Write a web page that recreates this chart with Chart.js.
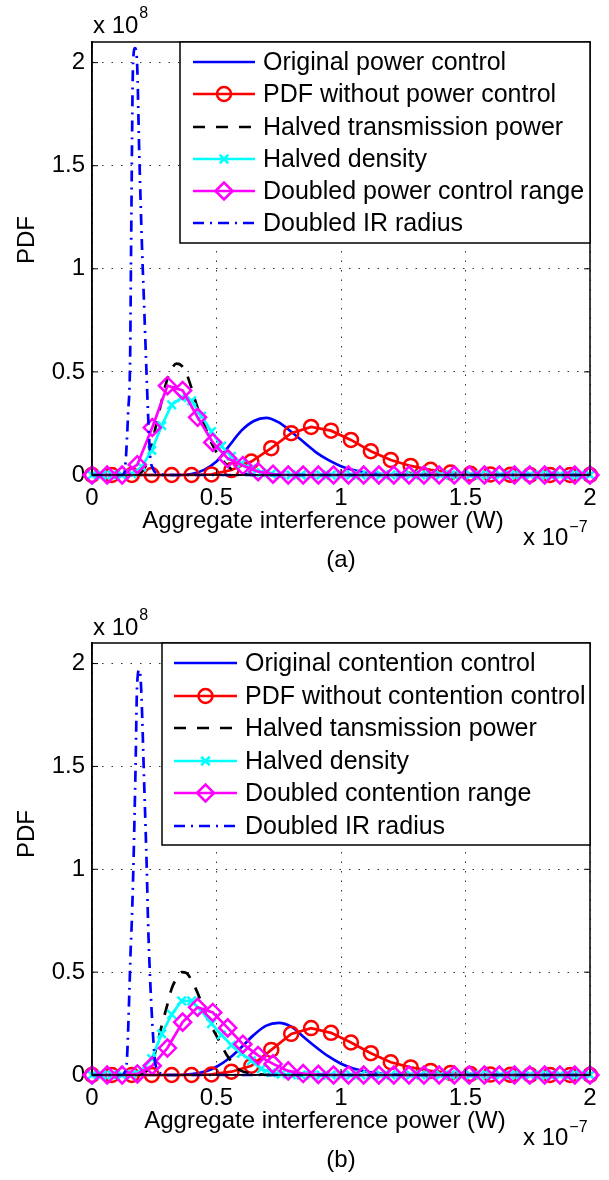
<!DOCTYPE html>
<html>
<head>
<meta charset="utf-8">
<script src="https://cdn.jsdelivr.net/npm/chart.js@4.4.0/dist/chart.umd.min.js"></script>
<style>
  html, body { margin: 0; padding: 0; background: #fff; }
  .panel { position: absolute; left: 0; }
  #chartA { top: 0; }
  #chartB { top: 600px; }
</style>
</head>
<body>
<canvas id="chartA" class="panel" width="609" height="600"></canvas>
<canvas id="chartB" class="panel" width="609" height="580"></canvas>
<script>
/* ========================================
   PDF of aggregate interference, panels (a) and (b)
   values in units of 1e-7 W (x) and 1e8 (y)
   ======================================== */

const FONT = '"Liberation Sans", Arial, Helvetica, sans-serif';

const xTicks = [0, 0.5, 1, 1.5, 2];
const yTicks = [0, 0.5, 1, 1.5, 2];

// x positions of the marker series
const xCircle = [0, 0.08, 0.16, 0.24, 0.32, 0.40, 0.48, 0.56, 0.64, 0.72, 0.80, 0.88, 0.96,
    1.04, 1.12, 1.20, 1.28, 1.36, 1.44, 1.52, 1.60, 1.68, 1.76, 1.84, 1.92, 2.0];
const xDiamond = [0, 0.061, 0.121, 0.182, 0.242, 0.303, 0.364, 0.424, 0.485, 0.545, 0.606, 0.667,
    0.727, 0.788, 0.848, 0.909, 0.970, 1.030, 1.091, 1.152, 1.212, 1.273, 1.333, 1.394, 1.455,
    1.515, 1.576, 1.636, 1.697, 1.758, 1.818, 1.879, 1.939, 2.0];
const xCross = [0, 0.04, 0.08, 0.12, 0.16, 0.20, 0.24, 0.28, 0.32, 0.36, 0.40, 0.44, 0.48, 0.52,
    0.56, 0.60, 0.64, 0.68, 0.72, 0.76, 0.80, 0.84, 0.88, 0.92, 0.96, 1.00, 1.04, 1.08, 1.12, 1.16,
    1.20, 1.24, 1.28, 1.32, 1.36, 1.40, 1.44, 1.48, 1.52, 1.56, 1.60, 1.64, 1.68, 1.72, 1.76, 1.80,
    1.84, 1.88, 1.92, 1.96, 2.0];
const xOrig = [0, 0.35, 0.4, 0.45, 0.5, 0.55, 0.6, 0.65, 0.7, 0.75, 0.8, 0.85, 0.9, 0.95, 1.0,
    1.05, 1.1, 1.15, 1.2, 1.3, 2.0];

// ---- panel (a)
const legendA = ['Original power control', 'PDF without power control', 'Halved transmission power',
    'Halved density', 'Doubled power control range', 'Doubled IR radius'];
const yOrigA = [0, 0, 0.005, 0.025, 0.065, 0.14, 0.215, 0.262, 0.277, 0.255, 0.21, 0.16, 0.11,
    0.072, 0.043, 0.024, 0.012, 0.005, 0.002, 0, 0];
const yNoCtrlA = [0, 0, 0, 0, 0, 0, 0.003, 0.024, 0.065, 0.13, 0.203, 0.233, 0.215, 0.17, 0.115,
    0.073, 0.044, 0.025, 0.012, 0.006, 0.003, 0.001, 0, 0, 0, 0];
const xHalfPowA = [0, 0.16, 0.18, 0.20, 0.22, 0.24, 0.26, 0.28, 0.30, 0.32, 0.34, 0.36, 0.38, 0.40,
    0.42, 0.44, 0.46, 0.48, 0.50, 0.52, 0.54, 0.56, 0.58, 0.60, 0.64, 0.70, 2.0];
const yHalfPowA = [0, 0, 0.003, 0.015, 0.055, 0.15, 0.255, 0.36, 0.455, 0.515, 0.54, 0.53, 0.49,
    0.42, 0.34, 0.275, 0.215, 0.155, 0.11, 0.08, 0.05, 0.028, 0.014, 0.007, 0.001, 0, 0];
const yHalfDensA = [0, 0, 0, 0, 0.005, 0.04, 0.12, 0.24, 0.34, 0.375, 0.36, 0.285, 0.21, 0.14, 0.09,
    0.055, 0.03, 0.012, 0.005, 0.002, 0, 0, 0, 0, 0, 0, 0, 0, 0, 0, 0, 0, 0, 0, 0, 0, 0, 0, 0, 0, 0,
    0, 0, 0, 0, 0, 0, 0, 0, 0, 0];
const yDoubleRangeA = [0, 0, 0, 0.05, 0.23, 0.433, 0.41, 0.28, 0.158, 0.08, 0.046, 0.016, 0.004,
    0, 0, 0, 0, 0, 0, 0, 0, 0, 0, 0, 0, 0, 0, 0, 0, 0, 0, 0, 0, 0];
const xIrA = [0, 0.12, 0.13, 0.137, 0.145, 0.153, 0.157, 0.165, 0.173, 0.181, 0.19, 0.201, 0.21,
    0.217, 0.225, 0.233, 0.245, 0.26, 0.28, 0.30, 2.0];
const yIrA = [0, 0, 0.01, 0.1, 0.3, 0.56, 1.1, 2.0, 2.07, 2.0, 1.55, 1.1, 0.8, 0.56, 0.3, 0.1, 0.03,
    0.008, 0.002, 0, 0];

// ---- panel (b)
const legendB = ['Original contention control', 'PDF without contention control',
    'Halved tansmission power', 'Halved density', 'Doubled contention range', 'Doubled IR radius'];
const yOrigB = [0, 0, 0.004, 0.015, 0.04, 0.08, 0.135, 0.195, 0.24, 0.253, 0.235, 0.185, 0.135,
    0.09, 0.055, 0.032, 0.017, 0.008, 0.003, 0, 0];
const yNoCtrlB = [0, 0, 0, 0, 0, 0, 0.003, 0.016, 0.045, 0.122, 0.2, 0.228, 0.205, 0.158, 0.106,
    0.062, 0.037, 0.02, 0.01, 0.005, 0.002, 0.001, 0, 0, 0, 0];
const xHalfPowB = [0, 0.18, 0.20, 0.22, 0.24, 0.26, 0.28, 0.30, 0.32, 0.34, 0.36, 0.38, 0.40, 0.42,
    0.44, 0.46, 0.48, 0.50, 0.52, 0.54, 0.56, 0.58, 0.60, 0.62, 0.66, 0.70, 0.75, 2.0];
const yHalfPowB = [0, 0, 0.005, 0.02, 0.055, 0.14, 0.24, 0.33, 0.42, 0.47, 0.50, 0.495, 0.46, 0.41,
    0.35, 0.285, 0.235, 0.19, 0.145, 0.10, 0.065, 0.035, 0.02, 0.012, 0.005, 0.001, 0, 0];
const yHalfDensB = [0, 0, 0, 0, 0.003, 0.025, 0.08, 0.2, 0.295, 0.36, 0.36, 0.31, 0.25, 0.195, 0.145,
    0.105, 0.07, 0.03, 0.012, 0.004, 0.001, 0, 0, 0, 0, 0, 0, 0, 0, 0, 0, 0, 0, 0, 0, 0, 0, 0, 0, 0,
    0, 0, 0, 0, 0, 0, 0, 0, 0, 0, 0];
const yDoubleRangeB = [0, 0, 0, 0.005, 0.045, 0.131, 0.257, 0.329, 0.304, 0.229, 0.15, 0.095, 0.054,
    0.02, 0.007, 0.003, 0, 0, 0, 0, 0, 0, 0, 0, 0, 0, 0, 0, 0, 0, 0, 0, 0, 0];
const xIrB = [0, 0.12, 0.13, 0.14, 0.15, 0.155, 0.16, 0.166, 0.175, 0.181, 0.19, 0.197, 0.21, 0.22,
    0.225, 0.229, 0.24, 0.253, 0.265, 0.28, 0.30, 2.0];
const yIrB = [0, 0, 0.01, 0.07, 0.4, 0.6, 0.75, 1.0, 1.5, 1.89, 1.97, 1.89, 1.4, 1.0, 0.75, 0.6, 0.3,
    0.07, 0.02, 0.005, 0, 0];

// line / marker styles, same order in both panels
const styles = [
    { color: '#0000ff', dash: [], marker: null },
    { color: '#ff0000', dash: [], marker: 'circle', r: 7 },
    { color: '#000000', dash: [12, 11], marker: null },
    { color: '#00ffff', dash: [], marker: 'crossRot', r: 6 },
    { color: '#ff00ff', dash: [], marker: 'rectRot', r: 8.5 },
    { color: '#0000ff', dash: [11, 6, 2, 6], marker: null }
];

function pts(xs, ys) {
    return xs.map((x, i) => ({ x: x, y: ys[i] }));
}

function makeDatasets(labels, series) {
    return series.map((s, i) => {
        const st = styles[i];
        return {
            label: labels[i],
            data: pts(s[0], s[1]),
            borderColor: st.color,
            backgroundColor: 'rgba(0,0,0,0)',
            borderWidth: 2.7,
            borderDash: st.dash,
            pointStyle: st.marker || 'circle',
            pointRadius: st.marker ? st.r : 0,
            pointHoverRadius: 0,
            pointBorderWidth: 2.5,
            pointBorderColor: st.color,
            pointBackgroundColor: 'rgba(0,0,0,0)',
            cubicInterpolationMode: st.marker ? 'default' : 'monotone',
            tension: 0,
            clip: false,
            order: series.length - i
        };
    });
}

function drawMarker(ctx, style, r, x, y) {
    ctx.beginPath();
    if (style === 'circle') {
        ctx.arc(x, y, r, 0, Math.PI * 2);
    } else if (style === 'rectRot') {
        ctx.moveTo(x - r, y); ctx.lineTo(x, y - r); ctx.lineTo(x + r, y); ctx.lineTo(x, y + r);
        ctx.closePath();
    } else if (style === 'crossRot') {
        const d = r * Math.SQRT1_2;
        ctx.moveTo(x - d, y - d); ctx.lineTo(x + d, y + d);
        ctx.moveTo(x + d, y - d); ctx.lineTo(x - d, y + d);
    }
    ctx.stroke();
}

function supText(ctx, base, sup, x, y, supDy) {
    ctx.font = '24px ' + FONT;
    ctx.textAlign = 'left';
    ctx.textBaseline = 'alphabetic';
    ctx.fillText(base, x, y);
    const w = ctx.measureText(base).width;
    ctx.font = '16px ' + FONT;
    ctx.fillText(sup, x + w + 1, y - supDy);
}

function decorPlugin(cfg) {
    return {
        id: 'decor',
        afterDraw(chart) {
            const ctx = chart.ctx;
            const a = chart.chartArea;
            const xs = chart.scales.x;
            const ys = chart.scales.y;
            ctx.save();

            // axes box and inward ticks
            ctx.strokeStyle = '#000';
            ctx.lineWidth = 1.5;
            ctx.strokeRect(a.left, a.top, a.right - a.left, a.bottom - a.top);
            ctx.lineWidth = 1;
            ctx.beginPath();
            xTicks.forEach(v => {
                const p = xs.getPixelForValue(v);
                ctx.moveTo(p, a.bottom); ctx.lineTo(p, a.bottom - 6);
                ctx.moveTo(p, a.top); ctx.lineTo(p, a.top + 6);
            });
            yTicks.forEach(v => {
                const p = ys.getPixelForValue(v);
                ctx.moveTo(a.left, p); ctx.lineTo(a.left + 6, p);
                ctx.moveTo(a.right, p); ctx.lineTo(a.right - 6, p);
            });
            ctx.stroke();

            // legend
            const L = cfg.legend;
            ctx.fillStyle = '#fff';
            ctx.fillRect(L.left, L.top, L.right - L.left, L.bottom - L.top);
            ctx.strokeStyle = '#000';
            ctx.lineWidth = 1.5;
            ctx.strokeRect(L.left, L.top, L.right - L.left, L.bottom - L.top);
            L.rows.forEach((y, i) => {
                const st = styles[i];
                ctx.strokeStyle = st.color;
                ctx.lineWidth = 2.7;
                ctx.setLineDash(st.dash);
                ctx.beginPath();
                ctx.moveTo(L.x1, y); ctx.lineTo(L.x2, y);
                ctx.stroke();
                ctx.setLineDash([]);
                if (st.marker) {
                    ctx.lineWidth = 2.5;
                    drawMarker(ctx, st.marker, st.r, (L.x1 + L.x2) / 2, y);
                }
                ctx.fillStyle = '#000';
                ctx.font = '25px ' + FONT;
                ctx.textAlign = 'left';
                ctx.textBaseline = 'middle';
                ctx.fillText(cfg.labels[i], L.tx, y + 1);
            });

            // axis titles, exponents, caption
            ctx.fillStyle = '#000';
            ctx.save();
            ctx.translate(cfg.pdfX, cfg.pdfY);
            ctx.rotate(-Math.PI / 2);
            ctx.font = '24px ' + FONT;
            ctx.textAlign = 'center';
            ctx.textBaseline = 'middle';
            ctx.fillText('PDF', 0, 0);
            ctx.restore();

            supText(ctx, 'x 10', '8', 93, cfg.expY, 15);

            ctx.font = '24px ' + FONT;
            ctx.textAlign = 'center';
            ctx.textBaseline = 'alphabetic';
            ctx.fillText('Aggregate interference power (W)', cfg.xLabelX, 528);
            supText(ctx, 'x 10', '\u22127', 523, 545, 13);
            ctx.font = '24px ' + FONT;
            ctx.textAlign = 'center';
            ctx.fillText(cfg.caption, 341, 567);

            ctx.restore();
        }
    };
}

function makeChart(id, cfg, series) {
    const ctx = document.getElementById(id);
    const tickFont = { family: FONT, size: 24 };
    return new Chart(ctx, {
        type: 'line',
        data: { datasets: makeDatasets(cfg.labels, series) },
        options: {
            responsive: false,
            animation: false,
            devicePixelRatio: 1,
            layout: { padding: { top: cfg.top, right: 19, bottom: 0, left: 0 } },
            plugins: {
                legend: { display: false },
                tooltip: { enabled: false }
            },
            scales: {
                x: {
                    type: 'linear',
                    min: 0,
                    max: 2,
                    afterBuildTicks: s => { s.ticks = xTicks.map(v => ({ value: v })); },
                    afterFit: s => { s.height = cfg.H - 475; },
                    grid: { color: 'rgba(0,0,0,0.8)', lineWidth: 1, drawTicks: false },
                    border: { display: true, color: '#000', width: 1.5, dash: [1.5, 8] },
                    ticks: {
                        padding: 9,
                        color: '#000',
                        font: tickFont,
                        maxRotation: 0,
                        autoSkip: false,
                        callback: v => String(v)
                    }
                },
                y: {
                    type: 'linear',
                    min: 0,
                    max: 2.1,
                    afterBuildTicks: s => { s.ticks = yTicks.map(v => ({ value: v })); },
                    afterFit: s => { s.width = 92; },
                    grid: { color: 'rgba(0,0,0,0.8)', lineWidth: 1, drawTicks: false },
                    border: { display: true, color: '#000', width: 1.5, dash: [1.5, 8] },
                    ticks: {
                        padding: 7,
                        color: '#000',
                        font: tickFont,
                        autoSkip: false,
                        callback: v => String(v)
                    }
                }
            }
        },
        plugins: [decorPlugin(cfg)]
    });
}

makeChart('chartA', {
    H: 600, top: 42, labels: legendA, caption: '(a)',
    pdfX: 27, pdfY: 240, expY: 33, xLabelX: 323,
    legend: { left: 180, top: 42, right: 590, bottom: 243,
              rows: [62, 94, 127, 159, 191, 223], x1: 193, x2: 255, tx: 263 }
}, [
    [xOrig, yOrigA],
    [xCircle, yNoCtrlA],
    [xHalfPowA, yHalfPowA],
    [xCross, yHalfDensA],
    [xDiamond, yDoubleRangeA],
    [xIrA, yIrA]
]);

makeChart('chartB', {
    H: 580, top: 43, labels: legendB, caption: '(b)',
    pdfX: 27, pdfY: 234, expY: 35, xLabelX: 325,
    legend: { left: 162, top: 43, right: 590, bottom: 245,
              rows: [63, 96, 128, 161, 193, 226], x1: 174, x2: 237, tx: 245 }
}, [
    [xOrig, yOrigB],
    [xCircle, yNoCtrlB],
    [xHalfPowB, yHalfPowB],
    [xCross, yHalfDensB],
    [xDiamond, yDoubleRangeB],
    [xIrB, yIrB]
]);
</script>
</body>
</html>
